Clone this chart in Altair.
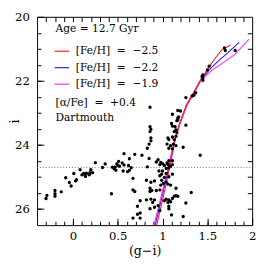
import altair as alt
import pandas as pd

# ---- photometry (g-i, i) ----
gi = [-0.30, -0.29, -0.20, -0.20, -0.20, -0.13, -0.08, -0.04, -0.02, 0.01,
      0.04, 0.03, 0.08, 0.10, 0.12, 0.13, 0.14, 0.15, 0.18, 0.19,
      0.20, 0.19, 0.22, 0.25, 0.33, 0.36, 0.86, 0.87, 0.86, 0.87,
      0.87, 0.85, 0.83, 0.57, 0.69, 0.77, 0.63, 0.51, 0.55, 0.49,
      0.44, 0.46, 0.47, 0.50, 0.52, 0.48, 0.57, 0.56, 0.62, 0.65,
      0.63, 0.61, 0.83, 0.67, 0.82, 0.87, 0.91, 0.67, 0.69, 0.43,
      0.86, 0.88, 0.86, 0.75, 0.82, 0.87, 0.91, 0.89, 0.86, 0.91,
      0.72, 0.75, 0.72, 0.67, 0.75, 1.06, 1.07, 1.11, 1.13, 1.15,
      1.05, 1.09, 1.12, 1.15, 1.07, 1.11, 1.23, 1.42, 0.85, 0.95,
      0.93, 0.98, 0.97, 1.00, 1.02, 1.05, 1.06, 1.07, 1.04, 1.09,
      1.11, 1.07, 1.11, 0.96, 1.00, 1.04, 0.99, 0.97, 1.02, 1.07,
      1.11, 0.99, 1.01, 0.98, 1.04, 1.06, 1.09, 0.93, 0.97, 1.15,
      1.32, 1.13, 1.15, 1.17, 1.02, 1.04, 1.07, 1.06, 1.09, 1.11,
      0.95, 0.97, 1.07, 1.07, 1.26, 1.23, 1.10, 1.45, 1.44, 1.45,
      1.45, 1.50, 1.52, 1.69, 1.70, 1.81, 1.37, 1.35, 1.33, 1.26,
      1.17, 1.20, 1.11, 0.86, 1.18, 1.17, 1.16, 1.17, 1.26, 1.10,
      1.11, 1.14, 1.15, 1.13, 1.16]
imag = [25.67, 25.57, 25.42, 25.52, 25.60, 25.46, 25.02, 25.17, 25.28, 24.89,
        25.08, 25.12, 24.77, 24.93, 24.89, 24.91, 24.98, 24.88, 24.93, 24.86,
        24.77, 24.90, 24.86, 24.55, 24.70, 24.59, 23.43, 23.51, 23.58, 23.78,
        23.87, 23.97, 24.10, 24.27, 24.29, 24.32, 24.43, 24.51, 24.56, 24.59,
        24.69, 24.74, 24.69, 24.64, 24.66, 24.79, 24.62, 24.81, 24.64, 24.71,
        24.79, 24.83, 24.68, 25.04, 25.10, 25.16, 25.12, 25.40, 25.45, 25.52,
        25.35, 25.42, 25.45, 25.74, 25.71, 25.69, 25.71, 25.79, 25.99, 25.94,
        25.91, 26.12, 26.16, 26.28, 26.28, 23.78, 23.83, 23.75, 23.83, 23.73,
        23.97, 24.02, 23.97, 24.02, 24.10, 24.12, 24.07, 24.32, 24.42, 24.46,
        24.53, 24.54, 24.61, 24.58, 24.64, 24.56, 24.61, 24.71, 24.73, 24.66,
        24.61, 24.49, 24.49, 24.81, 24.81, 24.89, 24.91, 24.96, 25.01, 24.99,
        24.91, 25.10, 25.20, 25.25, 25.15, 25.22, 25.25, 25.42, 25.40, 25.35,
        25.48, 25.60, 25.58, 25.60, 25.74, 25.69, 25.71, 25.79, 25.77, 25.67,
        25.89, 26.04, 25.99, 25.91, 25.81, 26.23, 26.18, 21.81, 21.86, 21.91,
        21.98, 21.66, 21.54, 20.97, 21.05, 21.05, 22.37, 22.45, 22.47, 22.52,
        22.92, 22.94, 23.04, 22.82, 23.12, 23.16, 23.24, 23.22, 23.38, 23.33,
        23.41, 23.43, 23.53, 23.58, 23.61]

# ---- Dartmouth isochrones, 12.7 Gyr ----
age_label = "Age = 12.7 Gyr"
feh_labels = ["[Fe/H]\u00a0\u00a0=\u00a0\u00a0\u22122.5",
              "[Fe/H]\u00a0\u00a0=\u00a0\u00a0\u22122.2",
              "[Fe/H]\u00a0\u00a0=\u00a0\u00a0\u22121.9"]
feh_colors = ["#ff1a1a", "#2020ff", "#ff20ff"]
iso_m25_gi = [0.935, 1.01, 1.08, 1.145, 1.19, 1.266, 1.358, 1.428, 1.51, 1.585, 1.66, 1.758]
iso_m25_i = [26.5, 25.6, 24.69, 23.78, 23.33, 22.74, 22.30, 21.95, 21.60, 21.30, 21.03, 20.88]
iso_m22_gi = [0.918, 0.995, 1.07, 1.142, 1.192, 1.271, 1.363, 1.432, 1.525, 1.62, 1.73, 1.855]
iso_m22_i = [26.5, 25.6, 24.69, 23.78, 23.33, 22.74, 22.30, 21.95, 21.64, 21.38, 21.12, 20.80]
iso_m19_gi = [0.905, 0.985, 1.063, 1.14, 1.195, 1.276, 1.368, 1.436, 1.545, 1.656, 1.80, 1.965]
iso_m19_i = [26.5, 25.6, 24.69, 23.78, 23.33, 22.74, 22.30, 21.95, 21.68, 21.47, 21.19, 20.70]

hline_i = 24.7
x_domain = [-0.4, 2.0]
y_domain = [20.0, 26.5]

x_major = [0, 0.5, 1, 1.5, 2]
x_minor = [-0.3, -0.2, -0.1, 0.0, 0.1, 0.2, 0.3, 0.4, 0.5, 0.6, 0.7, 0.8, 0.9,
           1.0, 1.1, 1.2, 1.3, 1.4, 1.5, 1.6, 1.7, 1.8, 1.9]
y_major = [20, 22, 24, 26]
y_minor = [20.5, 21.0, 21.5, 22.0, 22.5, 23.0, 23.5, 24.0, 24.5, 25.0, 25.5, 26.0]

notes = "[\u03b1/Fe]\u00a0\u00a0=\u00a0\u00a0+0.4\nDartmouth"

FONT = "DejaVu Serif"

# ---- tables (blue, magenta, red drawing order; legend order fixed by domain) ----
pts = pd.DataFrame({"gi": gi, "i": imag})
iso = pd.concat([
    pd.DataFrame({"gi": iso_m22_gi, "i": iso_m22_i, "feh": feh_labels[1]}),
    pd.DataFrame({"gi": iso_m19_gi, "i": iso_m19_i, "feh": feh_labels[2]}),
    pd.DataFrame({"gi": iso_m25_gi, "i": iso_m25_i, "feh": feh_labels[0]}),
], ignore_index=True)
hl = pd.DataFrame({"x1": [x_domain[0]], "x2": [x_domain[1]], "i": [hline_i]})
txt_age = pd.DataFrame({"t": [age_label]})
txt = pd.DataFrame({"t": [notes]})

xs = alt.Scale(domain=x_domain, nice=False, zero=False)
ys = alt.Scale(domain=y_domain, reverse=True, nice=False, zero=False)

points = alt.Chart(pts).mark_circle(size=12, color="black", opacity=1).encode(
    x=alt.X("gi:Q", scale=xs, axis=alt.Axis(
        orient="bottom", values=x_major, tickSize=7, offset=-7, domain=False,
        grid=False, labelPadding=6, labelFlush=False, labelOverlap=False,
        format="~g", labelFontSize=12, title="(g\u2212i)", titleFontSize=13,
        titlePadding=3)),
    y=alt.Y("i:Q", scale=ys, axis=alt.Axis(
        orient="left", values=y_major, tickSize=7, offset=-7, domain=False,
        grid=False, labelPadding=8, labelFlush=False, labelOverlap=False,
        format="d", labelFontSize=12, title="i", titleFontSize=13,
        titlePadding=-7)),
)

lines = alt.Chart(iso).mark_line(strokeWidth=1.1).encode(
    x=alt.X("gi:Q", scale=xs, axis=alt.Axis(
        orient="bottom", values=x_minor, tickSize=4, offset=-4, domain=False,
        grid=False, labels=False, title="")),
    y=alt.Y("i:Q", scale=ys, axis=alt.Axis(
        orient="left", values=y_minor, tickSize=4, offset=-4, domain=False,
        grid=False, labels=False, title="")),
    color=alt.Color("feh:N", scale=alt.Scale(domain=feh_labels, range=feh_colors),
                    legend=alt.Legend(
                        orient="none", legendX=17, legendY=27, title=None,
                        labelFont=FONT, labelFontSize=11, labelColor="black",
                        labelOffset=6, rowPadding=3, padding=0, labelLimit=200,
                        symbolType="stroke", symbolSize=225,
                        symbolStrokeWidth=1.2)),
    order=alt.Order("gi:Q"),
)

hrule = alt.Chart(hl).mark_rule(color="#777777", strokeDash=[1, 2], strokeWidth=1).encode(
    x=alt.X("x1:Q", scale=xs, axis=alt.Axis(
        orient="top", values=x_minor, tickSize=5, offset=-5, domain=False,
        grid=False, labels=False, title="")),
    x2="x2:Q",
    y=alt.Y("i:Q", scale=ys, axis=alt.Axis(
        orient="right", values=y_minor, tickSize=5, offset=-5, domain=False,
        grid=False, labels=False, title="")),
)

age_text = alt.Chart(txt_age).mark_text(
    align="left", baseline="middle", font=FONT, fontSize=11, color="black",
).encode(x=alt.value(19), y=alt.value(13), text="t:N")

text = alt.Chart(txt).mark_text(
    align="left", baseline="middle", font=FONT, fontSize=11, color="black",
    lineBreak="\n", lineHeight=16,
).encode(x=alt.value(19), y=alt.value(89), text="t:N")

chart = alt.layer(hrule, lines, points, age_text, text).resolve_axis(
    x="independent", y="independent"
).properties(
    width=222, height=215,
    autosize=alt.AutoSizeParams(type="none"),
    padding={"left": 30, "top": 5, "right": 6, "bottom": 36},
).configure_view(stroke="black", strokeWidth=1).configure_axis(
    tickColor="black", labelColor="black", titleColor="black",
    labelFont=FONT, titleFont=FONT, titleFontWeight="normal",
)

chart.save("out.html", embed_options={"renderer": "svg", "actions": False})
